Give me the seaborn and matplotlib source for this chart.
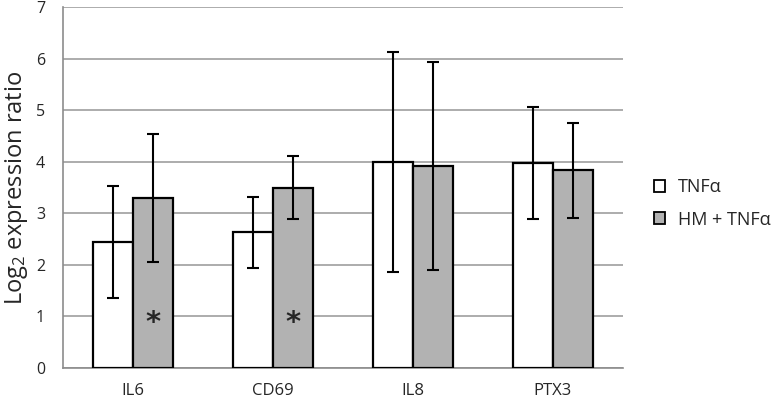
import matplotlib
matplotlib.use("Agg")
import matplotlib.pyplot as plt
import matplotlib.transforms as mtransforms
import seaborn as sns
import pandas as pd
from matplotlib.patches import Patch

genes = ["IL6", "CD69", "IL8", "PTX3"]
groups = ["TNFα", "HM + TNFα"]
tnf_mean = [2.44, 2.63, 4.00, 3.97]
tnf_err = [1.09, 0.69, 2.13, 1.09]
hm_mean = [3.30, 3.50, 3.92, 3.83]
hm_err = [1.24, 0.61, 2.02, 0.92]
significant = ["IL6", "CD69"]
yticks = [0, 1, 2, 3, 4, 5, 6, 7]

sns.set_style("white")
plt.rcParams['font.family'] = ['Open Sans', 'DejaVu Sans']
plt.rcParams['mathtext.fontset'] = 'custom'
plt.rcParams['mathtext.rm'] = 'Open Sans'
plt.rcParams['mathtext.it'] = 'Open Sans'

df = pd.DataFrame({
    "gene": genes * 2,
    "group": [groups[0]] * 4 + [groups[1]] * 4,
    "value": tnf_mean + hm_mean,
})

fig = plt.figure(figsize=(7.83, 4.03), dpi=100)
ax = fig.add_axes([0.0805, 0.0868, 0.715, 0.8958])

palette = {groups[0]: "#ffffff", groups[1]: "#b2b2b2"}
sns.barplot(data=df, x="gene", y="value", hue="group", order=genes,
            hue_order=groups, palette=palette, width=0.57, gap=0,
            edgecolor="black", linewidth=1.6, errorbar=None, ax=ax,
            legend=False, zorder=3)

errs = [tnf_err, hm_err]
star_tr = ax.transData + mtransforms.ScaledTranslation(0, -5 / 72, fig.dpi_scale_trans)
bar_conts = list(ax.containers)
for h, cont in enumerate(bar_conts):
    for i, bar in enumerate(cont.patches):
        xc = bar.get_x() + bar.get_width() / 2
        ax.errorbar(xc, bar.get_height(), yerr=errs[h][i], fmt="none",
                    ecolor="black", elinewidth=1.5, capsize=4, capthick=1.5,
                    zorder=4)
        if h == 1 and genes[i] in significant:
            ax.text(xc, 1.0, "*", ha="center", va="center", fontsize=21,
                    fontweight="bold", zorder=5, family="DejaVu Sans",
                    transform=star_tr)

ax.set_ylim(0, 7)
ax.set_xlim(-0.5, 3.5)
ax.set_yticks(yticks)
ax.set_yticklabels([str(t) for t in yticks], fontsize=11.5)
ax.yaxis.grid(True, color="#a6a6a6", linewidth=1.3, zorder=0)
ax.set_axisbelow(True)
ax.set_xlabel("")
ax.set_ylabel(r"Log$_2$ expression ratio", fontsize=17, labelpad=4)

for s in ["top", "right"]:
    ax.spines[s].set_visible(False)
for s in ["left", "bottom"]:
    ax.spines[s].set_color("#8c8c8c")
    ax.spines[s].set_linewidth(1.2)

ax.set_xticks(range(len(genes)))
ax.set_xticklabels(genes, fontsize=12)
ax.tick_params(axis="x", length=0, pad=11)
ax.set_xticks([-0.5, 0.5, 1.5, 2.5, 3.5], minor=True)
ax.tick_params(axis="x", which="minor", length=5, color="#8c8c8c", width=1.2)
ax.tick_params(axis="y", length=5, color="#8c8c8c", width=1.2, pad=8)

handles = [Patch(facecolor=palette[g], edgecolor="black", linewidth=1.3) for g in groups]
fig.legend(handles, groups, loc="center left", bbox_to_anchor=(0.814, 0.495),
           frameon=False, fontsize=13, handlelength=0.65, handleheight=0.65,
           labelspacing=0.8, handletextpad=0.7)

fig.savefig("out.png", dpi=100)
